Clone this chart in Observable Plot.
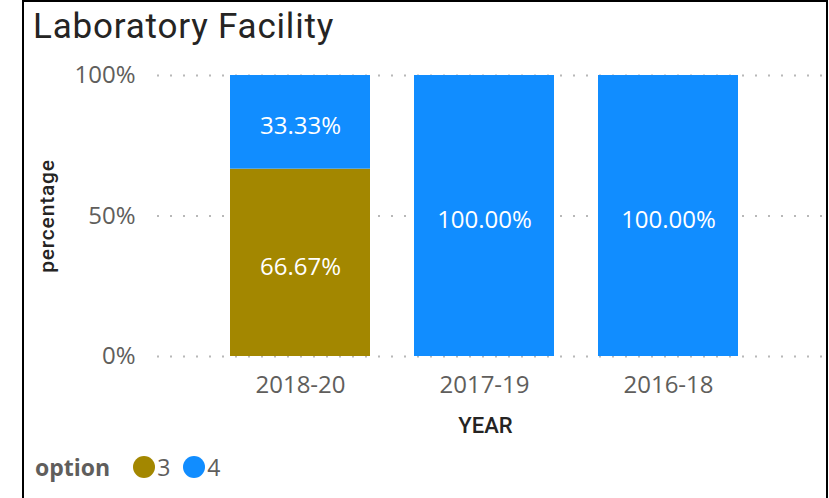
<!DOCTYPE html>
<html>
<head>
<meta charset="utf-8">
<script src="https://cdn.jsdelivr.net/npm/d3@7"></script>
<script src="https://cdn.jsdelivr.net/npm/@observablehq/plot@0.6"></script>
<style>
  html, body { margin: 0; padding: 0; background: #fff; }
  #root { position: relative; width: 829px; height: 498px; overflow: hidden; background: #fff; }
  #frame { position: absolute; left: 22px; top: 0; width: 802px; height: 520px;
           border-left: 2px solid #000; border-right: 2px solid #000; border-top: 2px solid #000; pointer-events: none; }
  #title { position: absolute; left: 33px; top: 9px; font-family: Roboto, sans-serif; font-size: 35px;
           line-height: 35px; color: #252423; letter-spacing: 0.8px; white-space: nowrap; }
  #chart { position: absolute; left: 0; top: 55px; }
  #chart svg [aria-label="y-axis label"] text { font-family: Roboto, sans-serif; font-size: 21px; font-weight: 500; fill: #252423; letter-spacing: 0.8px; }
  #legend { position: absolute; left: 35px; top: 451px; display: flex; align-items: center;
            font-family: "Open Sans", sans-serif; font-size: 23px; color: #605E5C; }
  #legend .name { font-weight: 700; margin-right: 23px; }
  #legend .sw { width: 22px; height: 22px; border-radius: 50%; display: inline-block; margin-right: 2px; }
  #legend .item { display: flex; align-items: center; margin-right: 13px; }
</style>
</head>
<body>
<div id="root">
  <div id="title">Laboratory Facility</div>
  <div id="chart"></div>
  <div id="legend"></div>
  <div id="frame"></div>
</div>
<script>
const years = ["2018-20", "2017-19", "2016-18"];
const options = ["3", "4"];
const option3 = [66.67, 0, 0];
const option4 = [33.33, 100, 100];
const yTicks = [0, 50, 100];
const xTitle = "YEAR";
const yTitle = "percentage";
const colors = ["#A38700", "#118DFF"];

const rows = [];
years.forEach((y, i) => { if (option3[i] > 0) rows.push({year: y, option: "3", value: option3[i]}); });
years.forEach((y, i) => { if (option4[i] > 0) rows.push({year: y, option: "4", value: option4[i]}); });

const chart = Plot.plot({
  width: 829,
  height: 385,
  marginLeft: 157,
  marginRight: 5,
  marginTop: 20,
  marginBottom: 84,
  style: {fontFamily: "'Open Sans', sans-serif", fontSize: "24px", color: "#605E5C", background: "transparent"},
  x: {domain: years, paddingInner: 0.239, paddingOuter: 0.432, align: 0.459},
  y: {domain: [0, 100]},
  color: {domain: options, range: colors},
  marks: [
    Plot.gridY(yTicks, {stroke: "#B8B8B8", strokeOpacity: 1, strokeWidth: 2, strokeDasharray: "2,11"}),
    Plot.barY(rows, {x: "year", y: "value", fill: "option"}),
    Plot.text(rows, Plot.stackY({x: "year", y: "value", text: d => d.value.toFixed(2) + "%", fill: "white", fontSize: 24, dy: 4})),
    Plot.axisY(yTicks, {tickSize: 0, tickPadding: 22, fontSize: 24, tickFormat: d => d + "%", label: yTitle, labelAnchor: "center", labelOffset: 118, labelArrow: "none", fill: "#605E5C"}),
    Plot.axisX({tickSize: 0, tickPadding: 19, fontSize: 24, label: null, fill: "#605E5C"}),
    Plot.text([xTitle], {x: [years[1]], frameAnchor: "bottom", dy: 76, dx: 1, text: d => d, fontFamily: "Roboto, sans-serif", fontSize: 22, fontWeight: 500, fill: "#252423", letterSpacing: "3px"})
  ]
});
document.getElementById("chart").appendChild(chart);

const legend = document.getElementById("legend");
const nm = document.createElement("span");
nm.className = "name"; nm.textContent = "option";
legend.appendChild(nm);
options.forEach((o, i) => {
  const it = document.createElement("span");
  it.className = "item";
  const sw = document.createElement("span");
  sw.className = "sw"; sw.style.background = colors[i];
  const t = document.createElement("span");
  t.textContent = o;
  it.appendChild(sw); it.appendChild(t);
  legend.appendChild(it);
});
</script>
</body>
</html>
